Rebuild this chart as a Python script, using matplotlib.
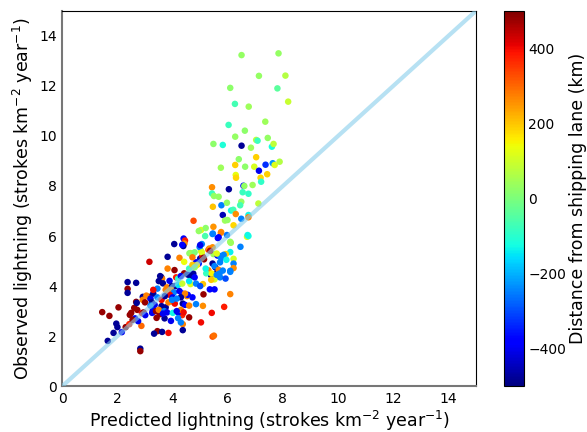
import matplotlib
matplotlib.use('Agg')
import matplotlib.pyplot as plt
import numpy as np

# predicted, observed, distance from shipping lane (km)
predicted = [
    6.5, 7.84, 7.13, 8.09, 6.09, 7.8, 8.19, 6.26, 6.76, 7.36, 6.03, 6.62, 6.27, 5.48, 5.82,
    6.5, 6.84, 7.03, 7.08, 7.45, 7.6, 7.66, 6.4, 7.03, 5.75, 6.27, 6.63, 6.96, 7.13, 7.37,
    7.63, 7.7, 7.88, 6.29, 6.3, 7.19, 7.43, 7.21, 6.57, 6.6, 6.9, 6.04, 5.43,
    5.43, 5.5, 5.67, 6.54, 6.75, 5.46, 5.77, 5.97, 6.49, 6.45, 7.11, 6.12, 6.2, 5.82, 5.9,
    5.99, 6.29, 6.49, 6.75, 6.75, 4.76, 5.48, 5.03, 5.2, 4.95, 5.45, 5.76, 5.97, 5.64, 6.21,
    5.18, 6.7, 6.75, 6.09, 6.46, 4.4, 4.45, 4.43, 5.06, 4.61, 4.75, 5.03, 5.3, 5.33, 5.45,
    5.48, 5.63, 5.76, 6.09, 5.93, 6.21, 6.21, 6.21, 6.09, 5.72, 5.55, 5.39, 5.3, 5.45, 5.0,
    5.14, 5.08, 4.85, 4.95, 4.88, 4.42, 4.55, 4.67, 4.75, 5.22, 5.52, 5.72, 4.65, 4.85, 5.1,
    5.35, 5.52, 5.12, 6.09, 4.72, 4.52, 4.37, 4.45, 4.85, 5.1, 4.6, 4.35, 4.6, 5.42, 5.87,
    5.03, 4.37, 4.37, 5.45, 5.5,
    4.06, 4.39, 4.35, 3.82, 4.25, 4.42, 4.65, 4.7, 4.8, 4.72, 4.98, 3.16, 3.82, 4.07, 4.6,
    4.72, 4.8, 2.37, 2.68, 2.37, 2.37, 3.59, 3.62, 3.65, 3.89, 4.13, 4.2, 4.3, 3.8, 3.98,
    4.1, 4.2, 4.35, 4.65, 4.8, 4.6, 5.46, 5.75, 5.67, 6.11, 6.72, 5.0, 5.06, 5.36, 5.12,
    5.72, 5.6, 5.85, 5.95, 5.2, 5.52, 5.62, 5.67, 5.7, 5.92, 5.42, 5.6, 5.82, 6.09, 5.4, 5.0,
    2.83, 2.83, 1.65, 1.86, 1.96, 2.0, 2.16, 2.3, 2.43, 1.45, 1.71, 2.04, 2.5, 2.61, 2.68,
    2.72, 2.64, 2.89, 2.95, 2.87, 2.92, 2.92, 3.16, 3.3, 3.26, 3.28, 3.4, 3.42, 3.45, 3.33,
    3.62, 3.85, 3.54, 3.71, 3.94, 3.55, 3.05, 3.2, 3.25, 3.45, 3.6, 3.35, 3.6, 3.75, 3.85,
    4.02, 4.08, 3.5, 3.7, 3.8, 3.65, 4.01, 4.2, 4.3, 4.4, 4.15, 3.2, 3.0, 2.7, 2.45, 2.75,
    3.01, 2.55, 4.2, 4.3, 4.55, 3.95, 4.05, 3.75, 3.9, 4.25, 4.35, 4.45, 4.3, 4.0, 4.15,
    3.72, 3.98, 3.45, 3.3, 3.5,
]
observed = [
    13.23, 13.3, 12.4, 12.41, 11.92, 11.9, 11.37, 11.28, 11.17, 10.57, 10.44, 10.21, 9.97, 9.68, 9.64,
    9.61, 9.53, 9.84, 9.81, 9.92, 9.57, 9.68, 9.07, 9.15, 8.73, 8.84, 8.77, 8.77, 8.61, 8.85,
    8.91, 8.84, 8.97, 8.44, 8.33, 8.33, 8.47, 8.17, 8.01, 8.0, 8.04, 7.87, 7.95,
    7.7, 7.6, 7.57, 7.75, 7.69, 7.17, 7.23, 7.33, 7.37, 7.23, 7.3, 7.02, 7.05, 6.84, 6.62,
    6.64, 6.88, 6.69, 6.84, 6.75, 6.61, 6.37, 6.24, 6.32, 6.2, 6.08, 6.16, 6.04, 5.92, 6.43,
    6.0, 5.97, 6.0, 5.77, 5.57, 5.9, 5.82, 5.7, 5.68, 5.31, 5.31, 5.41, 5.45, 5.5, 5.55,
    5.28, 5.22, 5.12, 5.36, 5.28, 5.09, 4.9, 4.72, 4.61, 4.95, 4.75, 4.44, 4.63, 4.9, 5.1,
    5.07, 5.2, 4.95, 4.9, 4.84, 4.51, 4.46, 4.45, 4.5, 4.51, 4.27, 4.35, 4.08, 4.1, 4.08,
    3.87, 3.87, 3.67, 3.68, 3.55, 3.6, 3.3, 3.25, 3.28, 3.21, 3.22, 2.84, 2.75, 2.93, 3.17,
    2.55, 2.48, 2.24, 1.98, 2.02,
    5.68, 5.6, 5.65, 5.17, 5.13, 4.97, 5.32, 5.3, 5.35, 5.15, 5.56, 4.97, 4.7, 4.64, 4.7,
    4.85, 4.75, 4.16, 4.13, 3.89, 3.73, 4.36, 4.3, 4.11, 4.21, 4.35, 4.3, 4.4, 3.95, 4.0,
    4.0, 4.05, 4.1, 4.4, 4.35, 4.2, 6.1, 6.13, 5.95, 5.73, 6.04, 5.64, 5.35, 5.41, 5.13,
    5.2, 5.3, 5.25, 5.05, 4.7, 4.8, 4.55, 4.65, 4.5, 4.3, 4.5, 4.45, 4.62, 4.57, 4.25, 4.0,
    1.5, 1.4, 1.81, 2.13, 2.5, 2.36, 2.16, 2.36, 2.48, 2.96, 2.81, 3.15, 2.93, 3.13, 3.37,
    3.05, 2.71, 2.92, 2.95, 2.41, 3.57, 3.45, 3.57, 3.7, 2.93, 3.02, 3.0, 2.73, 2.2, 2.1,
    2.17, 2.13, 2.88, 2.71, 2.61, 4.4, 3.62, 3.5, 3.35, 3.55, 3.45, 3.25, 3.2, 3.15, 3.35,
    3.37, 3.3, 3.05, 3.0, 2.95, 2.9, 2.93, 2.95, 3.05, 2.95, 3.0, 3.22, 3.35, 3.33, 2.85, 2.6,
    2.84, 2.65, 2.72, 2.55, 3.65, 3.85, 3.75, 3.85, 3.65, 3.8, 3.7, 3.7, 3.55, 3.55, 3.5,
    3.6, 3.45, 3.9, 3.85, 4.2,
]
distance = [
    30, 30, 30, 70, 20, -40, 90, -70, 40, 40, -80, 20, 30, 20, -110,
    -480, 40, 80, -80, 30, -120, 80, 20, 190, 40, 190, 20, 110, -400, -330,
    -230, 120, 70, 130, 180, 180, 190, -90, -380, 30, 40, -480, 260,
    -80, 30, 30, -80, -90, 200, -250, 30, 30, -70, 80, -130, -70, -450, 40,
    30, 260, -250, -130, 270, 330, 250, 110, 20, 30, -240, 250, -260, -380, 180,
    -60, 120, -120, 30, -250, -380, 380, 260, -250, 30, 0, 110, 340, 250, 260,
    40, -380, -250, -140, 190, 110, -250, 260, -250, -250, -480, -480, 270, -480, -460,
    480, 400, -380, -350, 160, 480, -480, -380, -470, -80, 110, -250, 110, -250, 200,
    -380, -380, 480, 270, -380, 260, -480, -380, -250, 260, 270, 370, 480, 400, 380,
    400, 270, -480, 320, 290,
    -480, -480, -380, -480, 270, 140, 20, 40, 0, 280, -250, 430, 270, 480, -80,
    200, 30, -480, -480, 480, -480, -480, 270, -480, -400, 380, -100, -400, 270, -480,
    -480, -150, 90, -480, -380, -150, -250, 270, -380, 40, -130, -400, 120, 450, 480,
    -250, 120, -250, -130, -130, -250, -480, 270, -250, -300, 150, -250, -250, -250, 200, -300,
    -480, 480, -480, -480, -480, -480, -400, 480, 370, 480, 480, 480, 480, 480, 480,
    480, -400, 400, 480, 300, -480, 270, 480, -480, -400, -400, 480, 480, 480, -480,
    -480, 400, 480, -480, -400, -480, 270, -400, -480, -250, 400, -400, -480, -480, 270,
    270, 400, 270, -250, -400, -400, -130, -400, 270, 400, -400, -250, 480, -480, 480, -400,
    -400, 480, -250, -250, -380, 270, -250, 270, 400, -400, -380, 270, -480, -400, -250,
    -480, -250, -250, 400, -480,
]

fig = plt.figure(figsize=(5.87, 4.32), dpi=100)
ax = fig.add_axes([0.106, 0.106, 0.705, 0.869])
cax = fig.add_axes([0.859, 0.106, 0.034, 0.869])

sc = ax.scatter(predicted, observed, c=distance, cmap='jet', vmin=-500, vmax=500,
                s=22, linewidths=0, zorder=2)
ax.plot([0, 15], [0, 15], color='#87ceeb', lw=3, alpha=0.6, zorder=3)

ax.set_xlim(0, 15)
ax.set_ylim(0, 15)
ax.set_xticks(np.arange(0, 15, 2))
ax.set_yticks(np.arange(0, 15, 2))
ax.tick_params(labelsize=10, length=0, pad=4)
for side in ['left', 'bottom']:
    ax.spines[side].set_color('#777777')
    ax.spines[side].set_linewidth(1.5)
ax.set_xlabel('Predicted lightning (strokes km$^{-2}$ year$^{-1}$)', fontsize=12.5, labelpad=2)
ax.set_ylabel('Observed lightning (strokes km$^{-2}$ year$^{-1}$)', fontsize=12.5, labelpad=3)

cb = fig.colorbar(sc, cax=cax)
cb.set_ticks([-400, -200, 0, 200, 400])
cb.ax.tick_params(labelsize=10, length=0, pad=3)
cb.set_label('Distance from shipping lane (km)', fontsize=12.5, labelpad=2)

fig.savefig('out.png', dpi=100)
